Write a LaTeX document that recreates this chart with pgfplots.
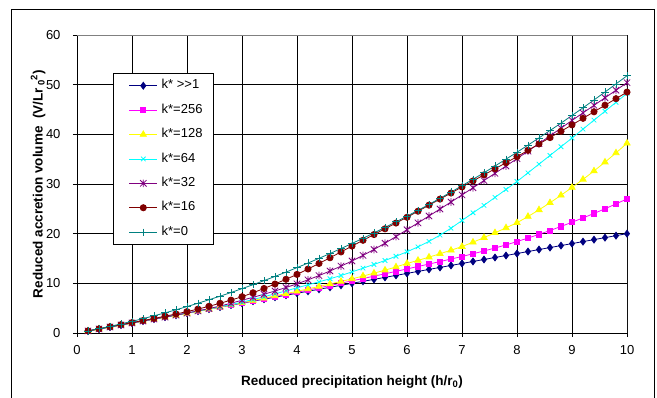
\documentclass[border=0pt]{standalone}
\usepackage{fontspec}
\setmainfont{Liberation Sans}
\usepackage{pgfplots}
\usepackage{pgfplotstable}
\pgfplotsset{compat=1.18}

\definecolor{cNavy}{RGB}{0,0,128}
\definecolor{cMag}{RGB}{255,0,255}
\definecolor{cYel}{RGB}{255,255,0}
\definecolor{cCyan}{RGB}{0,255,255}
\definecolor{cPurp}{RGB}{128,0,128}
\definecolor{cDRed}{RGB}{128,0,0}
\definecolor{cTeal}{RGB}{0,128,128}

\pgfdeclareplotmark{xstar}{%
  \pgfpathmoveto{\pgfqpoint{-\pgfplotmarksize}{-\pgfplotmarksize}}%
  \pgfpathlineto{\pgfqpoint{\pgfplotmarksize}{\pgfplotmarksize}}%
  \pgfpathmoveto{\pgfqpoint{-\pgfplotmarksize}{\pgfplotmarksize}}%
  \pgfpathlineto{\pgfqpoint{\pgfplotmarksize}{-\pgfplotmarksize}}%
  \pgfpathmoveto{\pgfqpoint{0pt}{-1.2\pgfplotmarksize}}%
  \pgfpathlineto{\pgfqpoint{0pt}{1.2\pgfplotmarksize}}%
  \pgfusepathqstroke}

\pgfplotstableread{
x     kinf   k256   k128   k64    k32    k16    k0
0.2   0.40   0.40   0.40   0.41   0.42   0.42   0.42
0.4   0.80   0.80   0.80   0.82   0.82   0.84   0.86
0.6   1.20   1.20   1.20   1.22   1.22   1.26   1.33
0.8   1.60   1.60   1.60   1.62   1.62   1.68   1.83
1.0   2.00   2.00   2.00   2.02   2.02   2.10   2.35
1.2   2.40   2.40   2.39   2.41   2.41   2.51   2.89
1.4   2.80   2.80   2.78   2.80   2.80   2.93   3.46
1.6   3.20   3.20   3.17   3.20   3.19   3.37   4.05
1.8   3.60   3.60   3.56   3.60   3.59   3.83   4.67
2.0   4.00   4.00   3.95   4.00   4.00   4.30   5.32
2.2   4.40   4.40   4.37   4.42   4.45   4.82   5.99
2.4   4.80   4.81   4.79   4.84   4.92   5.38   6.69
2.6   5.20   5.22   5.22   5.28   5.42   5.98   7.41
2.8   5.60   5.63   5.66   5.73   5.99   6.62   8.15
3.0   6.00   6.05   6.10   6.20   6.60   7.30   8.93
3.2   6.40   6.47   6.55   6.75   7.18   8.10   9.72
3.4   6.80   6.89   7.00   7.30   7.80   8.96   10.54
3.6   7.20   7.32   7.46   7.88   8.46   9.86   11.39
3.8   7.60   7.76   7.93   8.48   9.16   10.81  12.26
4.0   8.00   8.20   8.40   9.10   9.90   11.80  13.16
4.2   8.40   8.65   8.88   9.70   10.70  12.88  14.08
4.4   8.80   9.10   9.37   10.30  11.56  14.00  15.03
4.6   9.20   9.56   9.87   10.92  12.48  15.15  16.00
4.8   9.60   10.03  10.38  11.58  13.46  16.32  17.00
5.0   10.00  10.50  10.90  12.30  14.50  17.50  18.03
5.2   10.40  10.97  11.47  13.05  15.62  18.66  19.07
5.4   10.80  11.44  12.05  13.80  16.82  19.82  20.15
5.6   11.20  11.92  12.65  14.60  18.08  20.98  21.25
5.8   11.60  12.41  13.30  15.45  19.41  22.14  22.37
6.0   12.00  12.90  14.00  16.35  20.80  23.30  23.52
6.2   12.40  13.39  14.62  17.35  22.17  24.52  24.69
6.4   12.80  13.88  15.27  18.45  23.56  25.74  25.89
6.6   13.20  14.38  15.96  19.70  24.96  26.96  27.12
6.8   13.60  14.89  16.66  21.10  26.37  28.18  28.37
7.0   14.00  15.40  17.40  22.65  27.80  29.40  29.65
7.2   14.40  15.95  18.28  24.20  29.24  30.62  30.95
7.4   14.80  16.52  19.21  25.70  30.69  31.84  32.27
7.6   15.20  17.11  20.18  27.30  32.15  33.06  33.62
7.8   15.60  17.74  21.17  28.90  33.62  34.28  35.00
8.0   16.00  18.40  22.20  30.50  35.10  35.50  36.40
8.2   16.40  19.12  23.45  32.25  36.62  36.78  37.83
8.4   16.80  19.86  24.80  34.00  38.15  38.06  39.28
8.6   17.20  20.63  26.22  35.75  39.69  39.34  40.76
8.8   17.60  21.45  27.73  37.50  41.24  40.62  42.26
9.0   18.00  22.30  29.30  39.25  42.80  41.90  43.79
9.2   18.40  23.17  30.93  41.05  44.32  43.22  45.34
9.4   18.80  24.07  32.62  42.85  45.84  44.54  46.92
9.6   19.20  25.01  34.40  44.65  47.36  45.86  48.52
9.8   19.60  25.99  36.26  46.45  48.88  47.18  50.15
10.0  20.00  27.00  38.20  48.25  50.40  48.50  51.80
}\datatable

\begin{document}
\begin{tikzpicture}[x=1pt,y=1pt]
\useasboundingbox (0,0) rectangle (657,398);
\fill[white] (0,0) rectangle (657,398);
\draw[black, line width=0.8pt] (11,-10) -- (11,389) -- (654,389) -- (654,-10);
\begin{axis}[
  at={(77pt,65pt)}, anchor=south west,
  scale only axis, width=550pt, height=298pt,
  xmin=0, xmax=10, ymin=0, ymax=60,
  xtick={0,1,...,10}, ytick={0,10,...,60},
  axis x line*=bottom, axis y line*=left,
  axis line style={black, line width=0.6pt},
  grid=major, major grid style={black, line width=0.5pt},
  tick align=outside, major tick length=4pt,
  tick style={black, line width=0.5pt},
  /pgf/number format/assume math mode=true,
  ticklabel style={font=\fontsize{13}{15}\selectfont},
  xticklabel style={yshift=-5pt},
  yticklabel style={xshift=-9pt},
  xlabel={\bfseries Reduced precipitation height (h/r\textsubscript{0})},
  ylabel={\bfseries Reduced accretion volume\ \ (V/Lr\,\textsubscript{0}\textsuperscript{2})},
  label style={font=\fontsize{13.5}{15}\selectfont},
  xlabel style={at={(axis description cs:0.5,-0.165)}, anchor=center},
  ylabel style={at={(axis description cs:-0.0709,0.5)}, anchor=center},
  legend cell align=left,
  legend style={at={(axis description cs:0.0649,0.8715)}, anchor=north west,
    draw=black, fill=white, font=\fontsize{13}{15}\selectfont,
    inner xsep=9pt, inner ysep=4.5pt, row sep=8.9pt,
    nodes={inner sep=2pt, text height=9pt, text depth=2.5pt},
    /tikz/every odd column/.append style={column sep=2pt}},
  legend image code/.code={%
    \path (0pt,-3pt) (0pt,3pt);
    \draw[mark repeat=2,mark phase=2] plot coordinates {(7pt,0pt) (21pt,0pt) (35pt,0pt)};},
  every axis plot/.append style={line width=0.8pt},
]
\addplot[color=cNavy, mark=diamond*, mark size=3.4pt, mark options={solid, fill=cNavy}] table[x=x, y=kinf] {\datatable};
\addlegendentry{k* >{}>1}
\addplot[color=cMag, mark=square*, mark size=2.6pt, mark options={solid, fill=cMag}] table[x=x, y=k256] {\datatable};
\addlegendentry{k*=256}
\addplot[color=cYel, mark=triangle*, mark size=3.6pt, mark options={solid, fill=cYel}] table[x=x, y=k128] {\datatable};
\addlegendentry{k*=128}
\addplot[color=cCyan, mark=x, mark size=3.2pt, mark options={solid}] table[x=x, y=k64] {\datatable};
\addlegendentry{k*=64}
\addplot[color=cPurp, mark=xstar, mark size=3.2pt, mark options={solid}] table[x=x, y=k32] {\datatable};
\addlegendentry{k*=32}
\addplot[color=cDRed, mark=*, mark size=3.1pt, mark options={solid, fill=cDRed}] table[x=x, y=k16] {\datatable};
\addlegendentry{k*=16}
\addplot[color=cTeal, mark=+, mark size=3.6pt, mark options={solid}] table[x=x, y=k0] {\datatable};
\addlegendentry{k*=0}
\draw[gray, line width=0.8pt] (axis cs:0,60) -- (axis cs:10,60) -- (axis cs:10,0);
\end{axis}
\end{tikzpicture}
\end{document}
